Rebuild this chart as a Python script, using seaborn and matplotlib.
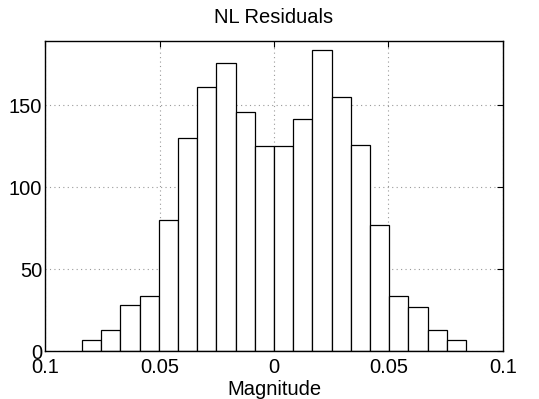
import numpy as np
import pandas as pd
import matplotlib
matplotlib.use("Agg")
import matplotlib.pyplot as plt
import seaborn as sns

# Histogram counts of the nonlinear-model residuals
counts = [7, 13, 28, 34, 80, 130, 161, 176, 146, 125,
          125, 142, 184, 155, 126, 77, 34, 27, 13, 7]
bin_lo, bin_hi = -0.0838, 0.0838
x_ticks = [-0.1, -0.05, 0.0, 0.05, 0.1]
x_tick_labels = ["0.1", "0.05", "0", "0.05", "0.1"]
y_ticks = [0, 50, 100, 150]
y_tick_labels = ["0", "50", "100", "150"]

edges = np.linspace(bin_lo, bin_hi, len(counts) + 1)
centers = (edges[:-1] + edges[1:]) / 2
df = pd.DataFrame({"residual": centers, "count": counts})

sns.set_style("white")
plt.rcParams["font.family"] = ["Liberation Sans", "DejaVu Sans"]
plt.rcParams["text.color"] = "black"
plt.rcParams["axes.labelcolor"] = "black"

fig = plt.figure(figsize=(5.39, 3.99), dpi=100)
ax = fig.add_axes([0.0835, 0.1195, 0.8497, 0.7785])

ax.grid(True, color="#999999", linestyle=(0, (1, 3)), linewidth=0.8)
ax.set_axisbelow(True)

sns.histplot(data=df, x="residual", weights="count",
             bins=len(counts), binrange=(bin_lo, bin_hi),
             color="white", edgecolor="black", linewidth=0.9, alpha=1.0,
             ax=ax)

ax.set_xlim(-0.1, 0.1)
ax.set_ylim(0, 189.5)
ax.set_xticks(x_ticks)
ax.set_xticklabels(x_tick_labels)
ax.set_yticks(y_ticks)
ax.set_yticklabels(y_tick_labels)
ax.tick_params(direction="in", length=4, width=0.8, top=True, right=True,
               labelsize=14.5, colors="black")
ax.tick_params(axis="x", pad=5)
ax.tick_params(axis="y", pad=2)
for s in ax.spines.values():
    s.set_visible(True)
    s.set_color("black")
    s.set_linewidth(1.0)

ax.set_xlabel("Magnitude", fontsize=14.5, labelpad=2, color="black")
ax.set_ylabel("")
ax.set_title("NL Residuals", fontsize=14.5, pad=13, color="black")

fig.savefig("out.png", dpi=100, facecolor="white")
